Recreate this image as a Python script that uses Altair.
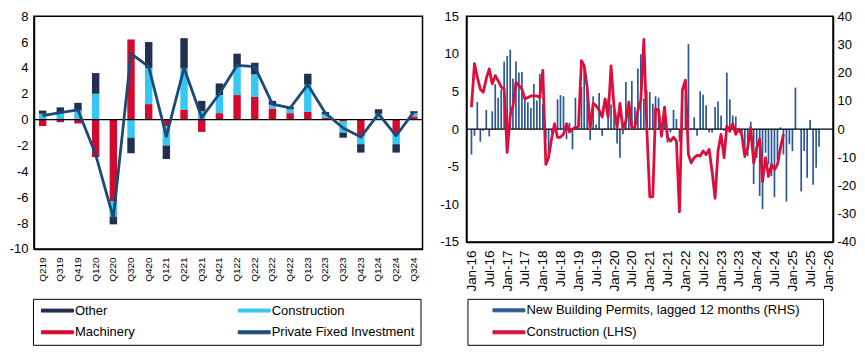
import altair as alt
import pandas as pd

FONT = "Liberation Sans"

# ---------------- left panel data ----------------
quarters = ["Q219", "Q319", "Q419", "Q120", "Q220", "Q320", "Q420", "Q121", "Q221", "Q321", "Q421",
            "Q122", "Q222", "Q322", "Q422", "Q123", "Q223", "Q323", "Q423", "Q124", "Q224", "Q324"]
other = [0.25, 0.45, 0.6, 1.6, -0.6, -1.2, 2.0, -1.05, 2.35, 0.8, 0.9,
         1.05, 0.9, 0.3, 0.2, 0.85, 0.2, -0.4, -0.65, 0.35, -0.65, 0.15]
construction = [0.45, 0.5, 0.7, 2.0, -1.2, -1.4, 2.8, -1.5, 3.2, 0.65, 1.4,
                2.15, 1.75, 0.3, 0.3, 2.1, 0.25, -0.85, -0.6, 0.45, -0.85, 0.25]
machinery = [-0.5, -0.2, -0.3, -2.9, -6.3, 6.2, 1.2, -0.5, 0.75, -0.95, 0.5,
             1.9, 1.75, 0.85, 0.5, 0.6, 0.15, -0.15, -1.3, 0.0, -1.05, 0.25]
private_fixed_investment = [0.3, 0.55, 0.75, -2.7, -7.6, 5.1, 4.1, -1.3, 4.0, 0.15, 2.0,
                            4.2, 4.1, 1.2, 0.9, 2.7, 0.5, -0.65, -1.35, 0.45, -1.25, 0.6]

# legend entries are filled column by column
left_series = ["Other", "Machinery", "Construction", "Private Fixed Investment"]
left_colors = ["#222f4f", "#d20a2e", "#36c8f4", "#1d4977"]

# ---------------- right panel data ----------------
# New building permits, lagged 12 months (RHS), monthly from Jan-16
permits_rhs = [
    -9.0, -2.4, 9.6, -4.5, -0.6, 6.8, -2.6, 6.3, 15.9, 11.1, 14.1, 23.9,
    25.9, 28.1, 17.9, 23.9, 20.0, 20.2, 11.6, 9.5, 7.5, 16.0, 10.1, 19.5,
    8.8, -3.5, -10.0, -1.2, 0.4, 10.5, 12.0, 11.6, -3.6, 2.2, -7.2, 11.1,
    0.5, 14.9, 22.1, 14.6, -3.9, 11.6, 1.6, 12.8, -2.4, 0.3, 10.8, 8.7,
    7.8, -5.1, -10.2, -1.8, 16.7, 6.8, 17.0, 7.8, 21.5, 26.5, 10.8, 13.7,
    13.1, 9.0, 11.6, 11.1, -3.0, 7.8, -4.8, -1.2, 6.8, 3.6, -4.4, 0.4,
    12.0, 30.1, 0.3, 4.2, -2.4, 13.4, 12.2, 8.4, -1.2, -1.2, 7.8, 9.8,
    4.8, -0.6, 20.0, 10.5, 4.8, 4.4, 0.3, -2.4, -10.2, -9.6, 2.6, -19.5,
    -10.2, -23.7, -28.4, -8.4, -12.5, -16.7, -24.1, -10.8, 0.6, -9.0, -25.7, -5.4,
    -7.8, 14.7, 0.0, -22.1, -7.8, -17.3, 3.2, -19.7, -13.7, -6.3,
]
# Construction (LHS), monthly from Jan-16
construction_lhs = [
    2.9, 8.7, 6.9, 5.3, 4.9, 6.7, 8.0, 6.0, 7.1, 6.4, 5.6, 5.3,
    -3.1, 1.8, 3.0, 6.2, 5.8, 5.3, 4.0, 4.2, 4.4, 4.4, 4.4, 4.2,
    7.8, -4.7, -3.8, -1.3, 0.7, -1.1, -1.1, -0.7, 0.7, -0.4, 0.0, 0.2,
    0.3, 9.1, 8.4, 5.5, 0.0, 3.4, 3.1, 2.5, 1.6, 4.0, 1.6, 8.4,
    2.9, 0.2, 3.4, 0.0, 1.1, 3.6, 0.2, 0.2, 2.5, 3.8, 11.9, 0.2,
    -9.0, -9.0, 2.7, 2.5, -0.9, 2.9, -1.1, -1.6, -1.1, -1.6, -11.0, 5.2,
    6.5, -3.4, -4.5, -3.8, -3.5, -3.6, -2.9, -3.4, -2.7, -5.6, -9.2, -2.9,
    -0.7, -3.8, 0.4, -0.3, 0.7, -0.7, 0.0, -0.7, -3.6, -2.5, 0.2, -4.5,
    -2.5, -1.3, -7.0, -3.8, -6.3, -4.7, -5.4, -4.7, -2.5, -0.7,
]
PERMITS = "New Building Permits, lagged 12 months (RHS)"
CONSTR = "Construction (LHS)"
right_series = [PERMITS, CONSTR]
right_colors = ["#2b5797", "#dc0f3c"]

# ---------------- tables ----------------
rows = []
for i, q in enumerate(quarters):
    rows.append({"quarter": q, "series": "Machinery", "value": machinery[i], "stk": 0})
    rows.append({"quarter": q, "series": "Construction", "value": construction[i], "stk": 1})
    rows.append({"quarter": q, "series": "Other", "value": other[i], "stk": 2})
bars_df = pd.DataFrame(rows)
pfi_df = pd.DataFrame({"quarter": quarters, "series": "Private Fixed Investment",
                       "value": private_fixed_investment})
zero_df = pd.DataFrame({"value": [0]})

months = pd.date_range("2016-01-01", periods=len(permits_rhs), freq="MS").strftime("%Y-%m-%d").tolist()
perm_df = pd.DataFrame({"date": months, "value": permits_rhs, "series": PERMITS})
con_df = pd.DataFrame({"date": months[:len(construction_lhs)], "value": construction_lhs, "series": CONSTR})

SYMBOL = "M-3.2,-0.3H3.2V0.3H-3.2Z"
HYPHEN = "'' + datum.value"


def legend(x, y, cols, sym_off, col_pad=19, extra_right=None):
    kw = dict(orient="none", legendX=x, legendY=y, columns=cols,
              gridAlign="all", columnPadding=col_pad, rowPadding=8, padding=5,
              strokeColor="black", symbolType=SYMBOL, symbolSize=100,
              symbolOffset=sym_off, labelOffset=11, symbolStrokeWidth=1,
              labelFont=FONT, labelFontSize=13, labelColor="black", labelLimit=400)
    if extra_right is None:
        kw["title"] = None
    else:
        kw.update(title=" ", titleOrient="right", titlePadding=extra_right,
                  titleFontSize=10, titleFont=FONT)
    return alt.Legend(**kw)


# ---------------- left panel ----------------
xq = alt.X("quarter:N", sort=quarters,
           scale=alt.Scale(paddingInner=0.58, paddingOuter=0.28),
           axis=alt.Axis(title=None, labelAngle=-90, labelPadding=8, ticks=False,
                         labelFont=FONT, labelFontSize=10, labelColor="black"))
yq_axis = alt.Axis(title=None, values=list(range(-10, 9, 2)), ticks=False, labelPadding=6,
                   labelOverlap=False, labelExpr=HYPHEN,
                   labelFont=FONT, labelFontSize=13, labelColor="black", grid=False)
yq_scale = alt.Scale(domain=[-10, 8], nice=False)
lcolor = alt.Scale(domain=left_series, range=left_colors)
left_legend = legend(-1, 283, 2, 13, col_pad=16)

bars = alt.Chart(bars_df).mark_bar().encode(
    x=xq, y=alt.Y("value:Q", stack="zero", scale=yq_scale, axis=yq_axis),
    color=alt.Color("series:N", scale=lcolor, legend=left_legend),
    order=alt.Order("stk:Q"),
)
zero_l = alt.Chart(zero_df).mark_rule(color="black", strokeWidth=1.2).encode(
    y=alt.Y("value:Q", scale=yq_scale, axis=yq_axis))
pfi_line = alt.Chart(pfi_df).mark_line(strokeWidth=2.8, strokeJoin="round").encode(
    x=xq, y=alt.Y("value:Q", scale=yq_scale, axis=yq_axis),
    color=alt.Color("series:N", scale=lcolor, legend=left_legend),
)
left = alt.layer(bars, zero_l, pfi_line).properties(width=389, height=233)

# ---------------- right panel ----------------
xdom = [alt.DateTime(year=2016, month=1, date=1, utc=True), alt.DateTime(year=2026, month=1, date=1, utc=True)]
tick_vals = [alt.DateTime(year=2016 + k // 2, month=1 + 6 * (k % 2), date=1, utc=True) for k in range(21)]
xr = alt.X("date:T", scale=alt.Scale(type="utc", domain=xdom),
           axis=alt.Axis(title=None, values=tick_vals, format="%b-%y", labelAngle=-90, labelPadding=8,
                         ticks=False, labelOverlap=False, labelFlush=False,
                         labelFont=FONT, labelFontSize=13.5, labelColor="black", grid=False))
rcolor = alt.Scale(domain=right_series, range=right_colors)
right_legend = legend(1, 283, 1, 30, extra_right=18)

rhs_scale = alt.Scale(domain=[-40, 40], nice=False)
rhs_axis = alt.Axis(title=None, orient="right", values=list(range(-40, 41, 10)), ticks=False,
                    labelPadding=4, labelOverlap=False, labelExpr=HYPHEN,
                    labelFont=FONT, labelFontSize=13, labelColor="black", grid=False)
perm_bars = alt.Chart(perm_df).mark_bar(width=1.7).encode(
    x=xr, y=alt.Y("value:Q", scale=rhs_scale, axis=rhs_axis),
    color=alt.Color("series:N", scale=rcolor, legend=right_legend),
)
zero_r = alt.Chart(zero_df).mark_rule(color="black", strokeWidth=1.2).encode(
    y=alt.Y("value:Q", scale=rhs_scale, axis=rhs_axis))
con_line = alt.Chart(con_df).mark_line(strokeWidth=2.8, strokeJoin="round").encode(
    x=xr,
    y=alt.Y("value:Q", scale=alt.Scale(domain=[-15, 15], nice=False),
            axis=alt.Axis(title=None, orient="left", values=list(range(-15, 16, 5)), ticks=False,
                          labelPadding=8, labelOverlap=False, labelExpr=HYPHEN,
                          labelFont=FONT, labelFontSize=13, labelColor="black", grid=False)),
    color=alt.Color("series:N", scale=rcolor, legend=right_legend),
)
right = alt.layer(alt.layer(perm_bars, zero_r), con_line).resolve_scale(y="independent").properties(
    width=367, height=226)

chart = alt.hconcat(left, right, spacing=14).resolve_scale(color="independent").configure_view(
    stroke="black", strokeWidth=1.5
).configure_axis(domainColor="black", domainWidth=1.5).properties(
    padding={"left": 0, "top": 1, "right": 0, "bottom": 0}, background="white"
)

chart.save("out.html", embed_options={"renderer": "svg", "actions": False})
